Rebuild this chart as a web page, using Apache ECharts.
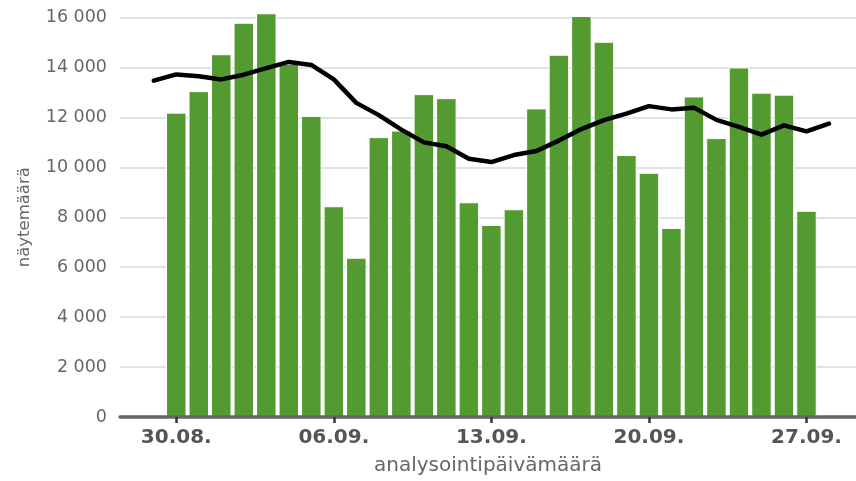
<!DOCTYPE html>
<html>
<head>
<meta charset="utf-8">
<script src="https://cdn.jsdelivr.net/npm/echarts@6/dist/echarts.min.js"></script>
<style>
html,body{margin:0;padding:0;background:#fff;}
#chart{width:856px;height:481px;}
</style>
</head>
<body>
<div id="chart"></div>
<script>
// Dates 29.08. .. 28.09.
const dates = ["29.08.","30.08.","31.08.","01.09.","02.09.","03.09.","04.09.","05.09.","06.09.","07.09.",
  "08.09.","09.09.","10.09.","11.09.","12.09.","13.09.","14.09.","15.09.","16.09.","17.09.",
  "18.09.","19.09.","20.09.","21.09.","22.09.","23.09.","24.09.","25.09.","26.09.","27.09.","28.09."];
// Daily sample counts (bars)
const dailyCounts = [null,12190,13050,14530,15790,16170,14140,12060,8440,6380,
  11210,11470,12930,12770,8600,7690,8320,12360,14510,16060,
  15030,10490,9780,7570,12840,11170,14000,12990,12910,8260,null];
// Moving average (line)
const movingAvg = [13470,13720,13650,13520,13710,13970,14220,14100,13520,12580,
  12090,11510,11000,10840,10340,10210,10490,10650,11070,11530,
  11890,12150,12450,12320,12390,11900,11620,11310,11680,11440,11750];
const tickLabels = ["30.08.","06.09.","13.09.","20.09.","27.09."];

const tickIdx = tickLabels.map(l => dates.indexOf(l));
const barData = dailyCounts.map((v,i)=> v==null ? null : [i,v]).filter(d=>d);
const lineData = movingAvg.map((v,i)=>[i,v]);

const chart = echarts.init(document.getElementById('chart'), null, {renderer:'canvas'});
chart.setOption({
  animation:false,
  textStyle:{fontFamily:'DejaVu Sans'},
  grid:{left:120,right:0,top:17.5,bottom:62,containLabel:false},
  xAxis:{
    type:'value', min:-1.5, max:31.2, z:10,
    name:'analysointipäivämäärä', nameLocation:'middle', nameGap:39,
    nameTextStyle:{fontSize:20,color:'#666',fontFamily:'DejaVu Sans'},
    axisLine:{show:true,onZero:false,lineStyle:{color:'#666',width:3.5}},
    axisTick:{show:true,length:6,lineStyle:{color:'#333',width:2.5},customValues:tickIdx},
    axisLabel:{customValues:tickIdx,margin:11,fontSize:20,fontWeight:'bold',color:'#555',
      fontFamily:'DejaVu Sans',formatter:v=>dates[Math.round(v)]},
    splitLine:{show:false}
  },
  yAxis:{
    type:'value', min:0, max:16000, interval:2000,
    name:'näytemäärä', nameLocation:'middle', nameGap:87,
    nameTextStyle:{fontSize:16.5,color:'#666',fontFamily:'DejaVu Sans'},
    axisLine:{show:false}, axisTick:{show:false},
    axisLabel:{margin:13,fontSize:17.5,color:'#666',fontFamily:'DejaVu Sans',
      formatter:v=>String(v).replace(/\B(?=(\d{3})+(?!\d))/g,' ')},
    splitLine:{show:true,lineStyle:{color:'#e1e2e7',width:2}}
  },
  series:[
    {type:'bar', data:barData, barWidth:20.5, clip:false, z:2,
      itemStyle:{color:'#539b30',borderColor:'#ffffff',borderWidth:1}},
    {type:'line', data:lineData, showSymbol:false, symbol:'none', z:5, clip:false,
      lineStyle:{color:'#000',width:4.5,join:'round',cap:'round'}}
  ]
});
</script>
</body>
</html>
